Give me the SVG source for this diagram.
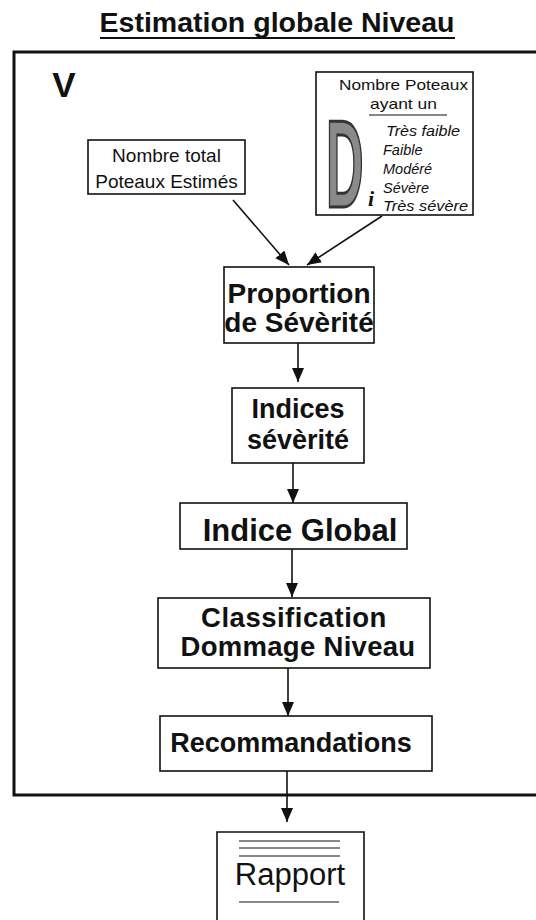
<svg xmlns="http://www.w3.org/2000/svg" width="536" height="920" viewBox="0 0 536 920">
<style>
.box{fill:none;stroke:#111;stroke-width:1.6}
.bt{font-family:"Liberation Sans",Arial,sans-serif;font-weight:bold;fill:#111;text-anchor:middle}
.rt{font-family:"Liberation Sans",Arial,sans-serif;fill:#111}
.it{font-family:"Liberation Sans",Arial,sans-serif;font-style:italic;fill:#111;font-size:14.5px}
.con{stroke:#111;stroke-width:1.6;fill:none;marker-end:url(#ah)}
</style>
<defs>
<marker id="ah" markerUnits="userSpaceOnUse" markerWidth="14" markerHeight="12" refX="14" refY="6" orient="auto">
<path d="M0,0 L14,6 L0,12 z" fill="#111"/>
</marker>
</defs>
<rect width="536" height="920" fill="#fff"/>
<g id="title">
<text class="bt" x="277" y="32" font-size="27" textLength="355" lengthAdjust="spacingAndGlyphs">Estimation globale Niveau</text>
<line x1="100" y1="38" x2="455" y2="38" stroke="#111" stroke-width="2"/>
</g>
<g id="frame">
<path d="M536,52 L14,52 L14,795 L536,795" fill="none" stroke="#111" stroke-width="3"/>
<text class="bt" x="64" y="97" font-size="35">V</text>
</g>
<g id="node-di">
<rect class="box" x="316" y="72" width="157" height="143"/>
<text class="rt" x="339" y="90" font-size="15" textLength="129" lengthAdjust="spacingAndGlyphs">Nombre Poteaux</text>
<text class="rt" x="370" y="109" font-size="15" textLength="67" lengthAdjust="spacingAndGlyphs">ayant un</text>
<line x1="369" y1="115" x2="447" y2="115" stroke="#111" stroke-width="1.2"/>
<text transform="translate(326,207) scale(0.42,1)" x="0" y="0" font-family="'Liberation Sans',Arial,sans-serif" font-weight="bold" font-size="124" fill="#8a8a8a" stroke="#333" stroke-width="3">D</text>
<text x="368" y="206" font-family="'Liberation Serif','Times New Roman',serif" font-weight="bold" font-style="italic" font-size="22" fill="#111">i</text>
<text class="it" x="386" y="136" textLength="74" lengthAdjust="spacingAndGlyphs">Très faible</text>
<text class="it" x="383" y="155">Faible</text>
<text class="it" x="383" y="174">Modéré</text>
<text class="it" x="383" y="193">Sévère</text>
<text class="it" x="383" y="211" textLength="85" lengthAdjust="spacingAndGlyphs">Très sévère</text>
</g>
<g id="node-total">
<rect class="box" x="88" y="140" width="157" height="54"/>
<text class="rt" x="166.5" y="162" font-size="19" text-anchor="middle">Nombre total</text>
<text class="rt" x="166.5" y="188" font-size="19" text-anchor="middle">Poteaux Estimés</text>
</g>
<g id="node-proportion">
<rect class="box" x="224" y="267" width="150" height="76"/>
<text class="bt" x="299" y="303" font-size="28">Proportion</text>
<text class="bt" x="299" y="332" font-size="28">de Sévèrité</text>
</g>
<g id="node-indices">
<rect class="box" x="232" y="388" width="132" height="75"/>
<text class="bt" x="298" y="418" font-size="27">Indices</text>
<text class="bt" x="298" y="449" font-size="27">sévèrité</text>
</g>
<g id="node-global">
<rect class="box" x="180" y="503" width="227" height="46"/>
<text class="bt" x="300" y="541" font-size="31">Indice Global</text>
</g>
<g id="node-classification">
<rect class="box" x="158" y="598" width="272" height="70"/>
<text class="bt" x="294" y="627" font-size="27.5" letter-spacing="0.5">Classification</text>
<text class="bt" x="298" y="656" font-size="27.5" letter-spacing="0.3">Dommage Niveau</text>
</g>
<g id="node-recommandations">
<rect class="box" x="160" y="716" width="272" height="55"/>
<text class="bt" x="291" y="752" font-size="27">Recommandations</text>
</g>
<g id="node-rapport">
<path d="M217,920 L217,832 L364,832 L364,920" fill="none" stroke="#111" stroke-width="1.6"/>
<line x1="239" y1="841" x2="340" y2="841" stroke="#111" stroke-width="1.2"/>
<line x1="239" y1="848" x2="340" y2="848" stroke="#111" stroke-width="1.2"/>
<line x1="239" y1="856" x2="340" y2="856" stroke="#111" stroke-width="1.2"/>
<text class="rt" x="290" y="885" font-size="31" text-anchor="middle">Rapport</text>
<line x1="239" y1="902" x2="339" y2="902" stroke="#111" stroke-width="1.2"/>
</g>
<g id="connectors">
<line class="con" x1="233" y1="200" x2="289" y2="265"/>
<line class="con" x1="382" y1="216" x2="307" y2="265"/>
<line class="con" x1="298" y1="343" x2="298" y2="382"/>
<line class="con" x1="293" y1="463" x2="293" y2="503"/>
<line class="con" x1="292" y1="549" x2="292" y2="597"/>
<line class="con" x1="288" y1="668" x2="288" y2="716"/>
<line class="con" x1="287" y1="771" x2="287" y2="822"/>
</g>
</svg>
